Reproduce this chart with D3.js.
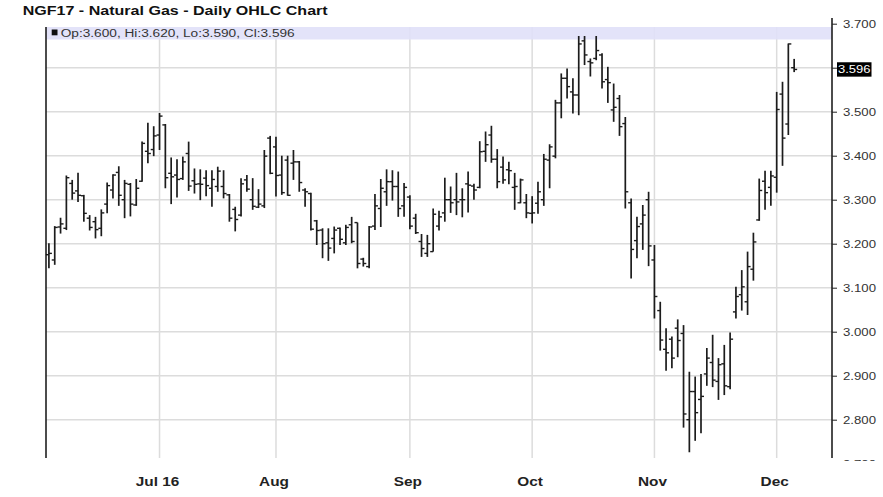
<!DOCTYPE html>
<html>
<head>
<meta charset="utf-8">
<script src="https://cdn.jsdelivr.net/npm/d3@7"></script>
<style>
  body { margin: 0; background: #fff; }
  svg text { font-family: "Liberation Sans", Arial, sans-serif; }
</style>
</head>
<body>
<svg id="chart" width="883" height="497"></svg>
<script>
// daily bars, Jun 6 2016 .. Dec 6 2016 (trading days)
const opens = [
  3.175, 3.163, 3.238, 3.235, 3.337, 3.320, 3.309, 3.258, 3.250, 3.235,
  3.290, 3.322, 3.362, 3.300, 3.335, 3.288, 3.342, 3.410, 3.414, 3.447,
  3.470, 3.360, 3.356, 3.348, 3.405, 3.343, 3.336, 3.349, 3.326, 3.330,
  3.330, 3.311, 3.278, 3.265, 3.345, 3.300, 3.283, 3.286, 3.440, 3.420,
  3.356, 3.390, 3.383, 3.386, 3.322, 3.314, 3.252, 3.231, 3.202, 3.212,
  3.235, 3.202, 3.243, 3.248, 3.165, 3.148, 3.240, 3.280, 3.318, 3.341,
  3.330, 3.286, 3.306, 3.258, 3.205, 3.178, 3.182, 3.240, 3.270, 3.300,
  3.300, 3.300, 3.336, 3.331, 3.328, 3.410, 3.447, 3.392, 3.374, 3.368,
  3.328, 3.293, 3.293, 3.269, 3.292, 3.300, 3.390, 3.399, 3.520, 3.576,
  3.545, 3.538, 3.661, 3.614, 3.621, 3.629, 3.573, 3.504, 3.530, 3.473,
  3.293, 3.207, 3.245, 3.300, 3.163, 3.048, 2.960, 2.983, 3.008, 2.996,
  2.800, 2.864, 2.846, 2.904, 2.930, 2.887, 2.927, 2.875, 3.045, 3.084,
  3.068, 3.142, 3.254, 3.342, 3.328, 3.351, 3.540, 3.472, 3.600
];
const highs = [
  3.201, 3.240, 3.259, 3.355, 3.345, 3.361, 3.311, 3.265, 3.261, 3.278,
  3.339, 3.358, 3.376, 3.345, 3.338, 3.347, 3.432, 3.475, 3.467, 3.497,
  3.472, 3.396, 3.392, 3.398, 3.432, 3.371, 3.369, 3.367, 3.367, 3.375,
  3.367, 3.313, 3.284, 3.349, 3.356, 3.349, 3.324, 3.413, 3.445, 3.443,
  3.400, 3.400, 3.413, 3.388, 3.326, 3.316, 3.254, 3.235, 3.235, 3.239,
  3.237, 3.243, 3.261, 3.248, 3.168, 3.240, 3.313, 3.347, 3.369, 3.367,
  3.364, 3.338, 3.310, 3.268, 3.222, 3.220, 3.280, 3.275, 3.350, 3.330,
  3.361, 3.326, 3.364, 3.336, 3.433, 3.455, 3.468, 3.415, 3.398, 3.386,
  3.361, 3.348, 3.313, 3.308, 3.341, 3.404, 3.426, 3.527, 3.587, 3.598,
  3.576, 3.672, 3.672, 3.621, 3.672, 3.633, 3.602, 3.564, 3.538, 3.488,
  3.303, 3.261, 3.288, 3.318, 3.197, 3.068, 3.008, 2.989, 3.028, 3.015,
  2.909, 2.898, 2.904, 2.963, 2.993, 2.940, 2.970, 2.998, 3.102, 3.140,
  3.182, 3.225, 3.348, 3.366, 3.366, 3.545, 3.568, 3.655, 3.620
];
const lows = [
  3.144, 3.152, 3.223, 3.231, 3.300, 3.295, 3.250, 3.230, 3.212, 3.217,
  3.269, 3.303, 3.286, 3.258, 3.262, 3.286, 3.341, 3.383, 3.399, 3.413,
  3.326, 3.290, 3.305, 3.345, 3.320, 3.314, 3.299, 3.308, 3.284, 3.318,
  3.303, 3.250, 3.228, 3.262, 3.318, 3.277, 3.281, 3.281, 3.358, 3.307,
  3.311, 3.309, 3.345, 3.318, 3.284, 3.230, 3.197, 3.167, 3.161, 3.178,
  3.197, 3.197, 3.201, 3.144, 3.148, 3.144, 3.231, 3.238, 3.286, 3.298,
  3.261, 3.261, 3.233, 3.222, 3.170, 3.170, 3.182, 3.230, 3.250, 3.270,
  3.265, 3.260, 3.271, 3.300, 3.326, 3.386, 3.384, 3.326, 3.336, 3.335,
  3.277, 3.292, 3.258, 3.246, 3.268, 3.286, 3.326, 3.394, 3.485, 3.530,
  3.496, 3.492, 3.606, 3.580, 3.617, 3.553, 3.520, 3.477, 3.445, 3.280,
  3.121, 3.167, 3.186, 3.149, 3.030, 2.957, 2.911, 2.917, 2.942, 2.782,
  2.726, 2.752, 2.769, 2.877, 2.874, 2.845, 2.856, 2.869, 3.030, 3.048,
  3.038, 3.116, 3.252, 3.277, 3.286, 3.316, 3.377, 3.447, 3.590
];
const closes = [
  3.178, 3.237, 3.245, 3.350, 3.315, 3.310, 3.269, 3.237, 3.232, 3.270,
  3.332, 3.356, 3.310, 3.337, 3.290, 3.326, 3.428, 3.405, 3.445, 3.490,
  3.350, 3.352, 3.346, 3.386, 3.331, 3.335, 3.335, 3.332, 3.346, 3.365,
  3.314, 3.258, 3.255, 3.336, 3.324, 3.285, 3.290, 3.399, 3.360, 3.355,
  3.316, 3.310, 3.386, 3.339, 3.318, 3.233, 3.230, 3.200, 3.190, 3.231,
  3.210, 3.237, 3.205, 3.155, 3.155, 3.238, 3.286, 3.326, 3.341, 3.330,
  3.280, 3.328, 3.240, 3.225, 3.189, 3.200, 3.267, 3.261, 3.300, 3.293,
  3.295, 3.300, 3.333, 3.322, 3.409, 3.425, 3.392, 3.341, 3.345, 3.366,
  3.330, 3.345, 3.270, 3.270, 3.318, 3.392, 3.420, 3.520, 3.576, 3.557,
  3.538, 3.654, 3.629, 3.611, 3.639, 3.568, 3.566, 3.510, 3.466, 3.318,
  3.187, 3.239, 3.265, 3.195, 3.080, 2.981, 2.952, 2.940, 2.980, 2.813,
  2.864, 2.816, 2.853, 2.940, 2.890, 2.925, 2.877, 2.983, 3.080, 3.102,
  3.148, 3.204, 3.321, 3.316, 3.354, 3.505, 3.440, 3.654, 3.596
];

// first trading day of each month (bar index) and its label
const monthIdx = [19, 39, 62, 83, 104, 125];
const monthLabels = ["Jul 16", "Aug", "Sep", "Oct", "Nov", "Dec"];
const priceTicks = [2.7, 2.8, 2.9, 3.0, 3.1, 3.2, 3.3, 3.4, 3.5, 3.6, 3.7];
const lastBar = { op: 3.600, hi: 3.620, lo: 3.590, cl: 3.596 };

const svg = d3.select("#chart");
const plotLeft = 46, plotRight = 832, plotTop = 27, plotBottom = 458;
const fmt = d3.format(".3f");

const x = d3.scaleLinear().domain([-0.5, 134.5]).range([plotLeft, plotRight]);
const y = d3.scaleLinear().domain([2.7, 3.7]).range([463.7, 23.7]);

// gridlines
svg.append("g")
  .selectAll("line")
  .data(priceTicks.filter(p => y(p) > plotTop && y(p) < plotBottom))
  .enter().append("line")
  .attr("x1", plotLeft).attr("x2", plotRight)
  .attr("y1", d => y(d)).attr("y2", d => y(d))
  .attr("stroke", "#dcdcdc").attr("stroke-width", 1.5);

svg.append("g")
  .selectAll("line")
  .data(monthIdx)
  .enter().append("line")
  .attr("x1", d => x(d)).attr("x2", d => x(d))
  .attr("y1", plotTop).attr("y2", plotBottom)
  .attr("stroke", "#dcdcdc").attr("stroke-width", 1.5);

// legend band
svg.append("rect")
  .attr("x", plotLeft).attr("y", plotTop)
  .attr("width", plotRight - plotLeft).attr("height", 12.5)
  .attr("fill", "#e0e0f8").attr("opacity", 0.9);
svg.append("rect")
  .attr("x", 51.7).attr("y", 29.5)
  .attr("width", 5.8).attr("height", 5.8)
  .attr("fill", "#111");
svg.append("text")
  .attr("x", 60.7).attr("y", 36.6)
  .attr("font-size", 10)
  .attr("fill", "#333")
  .attr("textLength", 234).attr("lengthAdjust", "spacingAndGlyphs")
  .text(`Op:${fmt(lastBar.op)}, Hi:${fmt(lastBar.hi)}, Lo:${fmt(lastBar.lo)}, Cl:${fmt(lastBar.cl)}`);

// OHLC bars
const bars = svg.append("g").attr("stroke", "#1c1c1c");
const idx = d3.range(opens.length);
bars.selectAll(".hl")
  .data(idx)
  .enter().append("line")
  .attr("x1", i => x(i)).attr("x2", i => x(i))
  .attr("y1", i => y(highs[i])).attr("y2", i => y(lows[i]))
  .attr("stroke-width", 1.7);
bars.selectAll(".op")
  .data(idx)
  .enter().append("line")
  .attr("x1", i => x(i) - 3).attr("x2", i => x(i))
  .attr("y1", i => y(opens[i])).attr("y2", i => y(opens[i]))
  .attr("stroke-width", 1.4);
bars.selectAll(".cl")
  .data(idx)
  .enter().append("line")
  .attr("x1", i => x(i)).attr("x2", i => x(i) + 3)
  .attr("y1", i => y(closes[i])).attr("y2", i => y(closes[i]))
  .attr("stroke-width", 1.4);

// frame lines
svg.append("line")
  .attr("x1", plotLeft).attr("x2", plotLeft).attr("y1", plotTop).attr("y2", plotBottom)
  .attr("stroke", "#111").attr("stroke-width", 1.5);
svg.append("line")
  .attr("x1", plotRight).attr("x2", plotRight).attr("y1", 18).attr("y2", plotBottom)
  .attr("stroke", "#111").attr("stroke-width", 1.5);

// right price axis (the 2.700 label is cut by the chart bottom, the
// 3.600 label sits under the last-price marker)
svg.append("clipPath").attr("id", "axisclip")
  .append("rect").attr("x", 0).attr("y", 0).attr("width", 60).attr("height", 461);

const yAxis = svg.append("g")
  .attr("transform", `translate(${plotRight},0)`)
  .attr("clip-path", "url(#axisclip)")
  .call(d3.axisRight(y).tickValues(priceTicks)
    .tickFormat(d => Math.abs(d - 3.6) < 1e-9 ? "" : fmt(d))
    .tickSize(5).tickPadding(6));
yAxis.select(".domain").remove();
yAxis.selectAll(".tick line").attr("stroke", "#222");
yAxis.selectAll(".tick text")
  .filter(d => Math.abs(d - 3.6) > 1e-9)
  .attr("font-family", '"Liberation Sans", Arial, sans-serif')
  .attr("font-size", 10.7)
  .attr("fill", "#333")
  .attr("textLength", 33).attr("lengthAdjust", "spacingAndGlyphs");

// last price marker
const lastY = y(lastBar.cl);
svg.append("rect")
  .attr("x", 837).attr("y", lastY - 7.2)
  .attr("width", 34.5).attr("height", 14.4)
  .attr("fill", "#000");
svg.append("text")
  .attr("x", 838).attr("y", lastY + 3.8)
  .attr("font-size", 10.7)
  .attr("fill", "#fff")
  .attr("textLength", 32.5).attr("lengthAdjust", "spacingAndGlyphs")
  .text(fmt(lastBar.cl));

// month labels
svg.append("g")
  .selectAll("text")
  .data(monthIdx)
  .enter().append("text")
  .attr("transform", d => `translate(${x(d) - 2},486) scale(1.28,1)`)
  .attr("text-anchor", "middle")
  .attr("font-size", 12)
  .attr("font-weight", "bold")
  .attr("fill", "#222")
  .text((d, i) => monthLabels[i]);

// title
svg.append("text")
  .attr("x", 22.7).attr("y", 15)
  .attr("font-size", 12.6)
  .attr("font-weight", "bold")
  .attr("fill", "#111")
  .attr("textLength", 305).attr("lengthAdjust", "spacingAndGlyphs")
  .text("NGF17 - Natural Gas - Daily OHLC Chart");
</script>
</body>
</html>
